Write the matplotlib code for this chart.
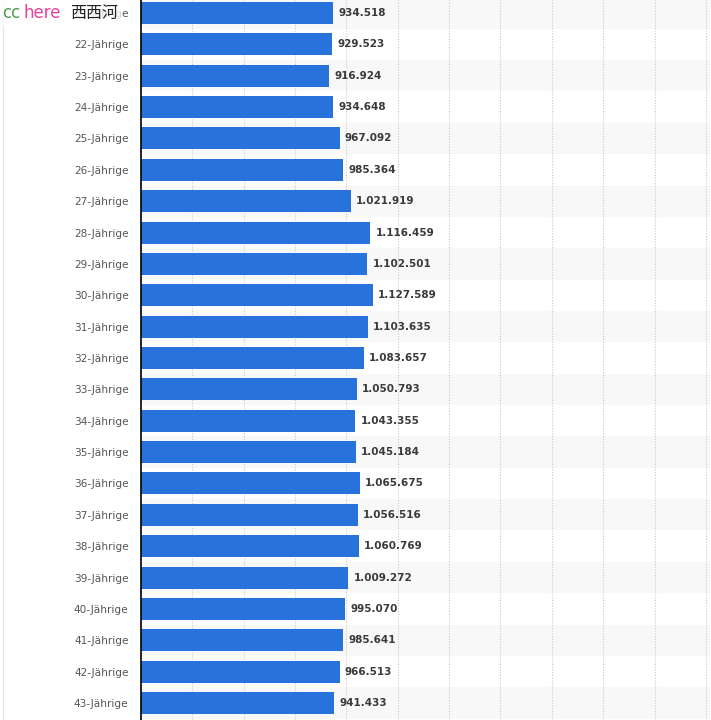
import matplotlib.pyplot as plt
from matplotlib.patches import Rectangle
from matplotlib.lines import Line2D

# ages and population counts
ages = list(range(21, 44))
labels = [f"{a}-Jährige" for a in ages]
values = [934518, 929523, 916924, 934648, 967092, 985364, 1021919, 1116459,
          1102501, 1127589, 1103635, 1083657, 1050793, 1043355, 1045184,
          1065675, 1056516, 1060769, 1009272, 995070, 985641, 966513, 941433]

W, H = 711, 720
left_px = 141

fig = plt.figure(figsize=(W / 100, H / 100), dpi=100)
ax = fig.add_axes([left_px / W, 0, (W - left_px) / W, 1])

n = len(values)
ypos = list(range(n))
row_px = 31.36
ax.set_ylim(22 + (H - 703) / row_px, -13 / row_px)
ax.set_xlim(0, 2775000)

# alternating row bands inside the plot area
for i in ypos:
    if i % 2 == 0:
        ax.axhspan(i - 0.5, i + 0.5, facecolor="#f8f8f8", edgecolor="none", zorder=0)

# dotted vertical grid
for gx in range(250000, 2775000, 250000):
    ax.axvline(gx, color="#c8c8c8", lw=0.8, ls=(0, (1, 1.5)), zorder=1)

ax.barh(ypos, values, height=0.7, color="#2873db", zorder=2)

for y, v in zip(ypos, values):
    txt = f"{v:,}".replace(",", ".")
    ax.text(v + 25000, y, txt, va="center", ha="left", fontsize=7.5,
            fontweight="bold", color="#3a3a3a", zorder=3)

ax.set_yticks(ypos)
ax.set_yticklabels(labels, fontsize=7.6, color="#555555")
ax.tick_params(axis="y", length=0, pad=9)
ax.set_xticks([])
for s in ["top", "right", "bottom"]:
    ax.spines[s].set_visible(False)
ax.spines["left"].set_color("black")
ax.spines["left"].set_linewidth(1.2)

# faint frame line at the left edge
fig.lines.append(Line2D([2.5 / W, 2.5 / W], [0, 1], transform=fig.transFigure,
                        color="#e6e6e6", lw=0.8))

# watermark in the top-left corner, over the first label
fig.patches.append(Rectangle((0, 1 - 26 / H), 121 / W, 26 / H, transform=fig.transFigure,
                             facecolor="white", edgecolor="none", alpha=0.75, zorder=5))
fig.text(2 / W, 1 - 18 / H, "cc", fontsize=12, color="#4f9a4f", zorder=6, va="baseline")
fig.text(23 / W, 1 - 18 / H, "here", fontsize=12, color="#e0449b", zorder=6, va="baseline")
fig.text(70 / W, 1 - 18 / H, "西西河", fontsize=11.5, color="#222222", zorder=6, va="baseline",
         family=["Noto Sans CJK SC", "DejaVu Sans"])

fig.savefig("out.png", dpi=100)
